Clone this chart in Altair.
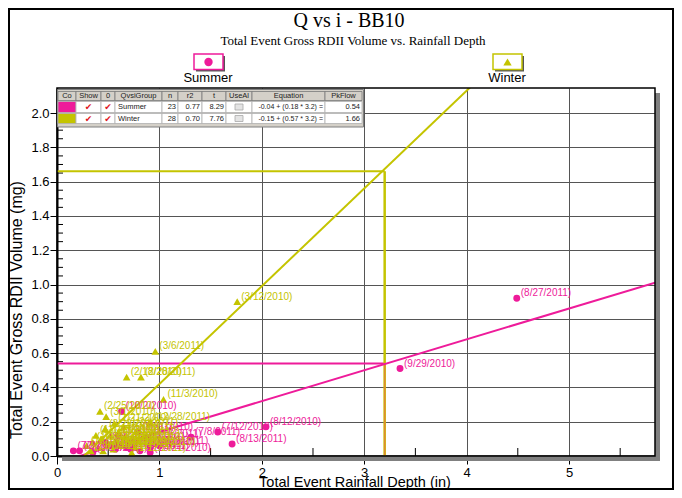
import altair as alt
import pandas as pd

# ---------------- data ----------------
summer_dates = ["8/27/2011", "9/29/2010", "8/12/2010", "7/12/2010", "8/13/2011",
                "7/8/2011", "10/2/2010", "8/21/2010", "7/20/2011", "7/2/2010",
                "7/29/2010", "8/16/2011", "6/4/2011", "9/12/2010", "6/16/2010",
                "9/1/2011", "7/14/2011", "8/5/2011", "10/27/2010", "6/22/2011",
                "9/6/2011", "8/8/2010", "7/25/2011"]
summer_x = [4.49, 3.35, 2.04, 1.57, 1.71, 1.31, 0.63, 0.79, 0.60, 0.16,
            0.22, 0.88, 0.81, 0.57, 0.52, 0.68, 0.76, 0.91, 0.91, 0.35,
            1.00, 0.47, 0.72]
summer_y = [0.92, 0.51, 0.17, 0.14, 0.07, 0.11, 0.26, 0.14, 0.12, 0.03,
            0.03, 0.10, 0.03, 0.04, 0.06, 0.05, 0.08, 0.05, 0.02, 0.02,
            0.06, 0.08, 0.04]

winter_dates = ["3/12/2010", "3/6/2011", "2/18/2010", "2/28/2011", "11/3/2010",
                "2/25/2010", "3/1/2010", "1/26/2011", "12/28/2011", "1/12/2011",
                "12/1/2010", "1/17/2010", "11/17/2010", "12/12/2010", "3/23/2010",
                "1/4/2011", "2/6/2011", "4/5/2010", "11/22/2011", "12/5/2011",
                "3/15/2011", "1/10/2012", "2/12/2010", "12/19/2010", "11/8/2011",
                "4/16/2011", "3/29/2010", "1/21/2010"]
winter_x = [1.76, 0.96, 0.68, 0.82, 1.04, 0.42, 0.48, 0.65, 0.91, 0.73,
            0.29, 0.35, 0.38, 0.40, 0.43, 0.45, 0.50, 0.52, 0.55, 0.58,
            0.62, 0.66, 0.70, 0.76, 0.33, 0.60, 0.47, 0.56]
winter_y = [0.90, 0.61, 0.46, 0.46, 0.33, 0.26, 0.23, 0.17, 0.20, 0.02,
            0.06, 0.08, 0.12, 0.05, 0.10, 0.03, 0.07, 0.12, 0.04, 0.09,
            0.06, 0.11, 0.08, 0.05, 0.03, 0.14, 0.16, 0.19]

groups = ["Summer", "Winter"]
group_n = [23, 28]
group_r2 = [0.77, 0.70]
group_t = [8.29, 7.76]
intercepts = [-0.04, -0.15]
slopes = [0.18, 0.57]
design_rain = 3.2
pk_flow = [0.54, 1.66]

x_ticks = [0, 1, 2, 3, 4, 5]
y_ticks = [0.0, 0.2, 0.4, 0.6, 0.8, 1.0, 1.2, 1.4, 1.6, 1.8, 2.0]
x_minor = [0.5, 1.5, 2.5, 3.5, 4.5, 5.5]
y_minor = [0.05, 0.10, 0.15, 0.25, 0.30, 0.35, 0.45, 0.50, 0.55, 0.65, 0.70, 0.75,
           0.85, 0.90, 0.95, 1.05, 1.10, 1.15, 1.25, 1.30, 1.35, 1.45, 1.50, 1.55,
           1.65, 1.70, 1.75, 1.85, 1.90, 1.95, 2.05, 2.10]

# ---------------- styling ----------------
PINK = "#ee1b9a"
YEL = "#c4c400"
XMAX, YMAX = 5.84, 2.146
W, H = 598, 368
SANS = "Liberation Sans"
SERIF = "Liberation Serif"

xs = alt.Scale(domain=[0, XMAX], nice=False, zero=False)
ys = alt.Scale(domain=[0, YMAX], nice=False, zero=False)
xaxis = alt.Axis(values=x_ticks, format="d", title=None, grid=True, gridColor="#555",
                 gridWidth=1, domainColor="black", domainWidth=2, tickColor="black",
                 tickSize=8, labelFont=SANS, labelFontSize=13, labelColor="black",
                 labelPadding=2, labelFlush=False)
yaxis = alt.Axis(values=y_ticks, format=".1f", title=None, grid=True, gridColor="#555",
                 gridWidth=1, domainColor="black", domainWidth=2, tickColor="black",
                 tickSize=7, labelFont=SANS, labelFontSize=13, labelColor="black",
                 labelPadding=1, labelFlush=False)


def X():
    return alt.X("x:Q", scale=xs, axis=xaxis)


def Y():
    return alt.Y("y:Q", scale=ys, axis=yaxis)


pts = pd.concat([
    pd.DataFrame({"group": "Summer", "x": summer_x, "y": summer_y,
                  "label": [f"({d})" for d in summer_dates]}),
    pd.DataFrame({"group": "Winter", "x": winter_x, "y": winter_y,
                  "label": [f"({d})" for d in winter_dates]}),
])
cscale = alt.Scale(domain=groups, range=[PINK, YEL])
sscale = alt.Scale(domain=groups, range=["circle", "triangle-up"])
zscale = alt.Scale(domain=groups, range=[48, 60])

reg_rows = []
for g, b, m in zip(groups, intercepts, slopes):
    reg_rows += [{"group": g, "x": 0.0, "y": b}, {"group": g, "x": XMAX, "y": b + m * XMAX}]
reg = pd.DataFrame(reg_rows)

hz = pd.DataFrame({"group": groups, "x": [0.0, 0.0], "x2": [design_rain] * 2, "y": pk_flow})
vt = pd.DataFrame({"group": groups, "x": [design_rain] * 2, "y": [0.0, 0.0], "y2": pk_flow})

minor_x = alt.Chart(pd.DataFrame({"x": x_minor})).mark_rule(color="black", strokeWidth=1).encode(
    x=X(), y=alt.value(H - 8), y2=alt.value(H))
minor_y = alt.Chart(pd.DataFrame({"y": y_minor})).mark_rule(color="black", strokeWidth=1).encode(
    y=Y(), x=alt.value(0), x2=alt.value(6))

h_lines = alt.Chart(hz).mark_rule(strokeWidth=2).encode(
    x=X(), x2="x2:Q", y=Y(), color=alt.Color("group:N", scale=cscale, legend=None))
v_win = alt.Chart(vt[vt.group == "Winter"]).mark_rule(strokeWidth=2.5, color=YEL).encode(
    x=X(), y=Y(), y2="y2:Q")
v_sum = alt.Chart(vt[vt.group == "Summer"]).mark_rule(strokeWidth=1.5, color="#e08a30").encode(
    x=X(), y=Y(), y2="y2:Q")
reg_lines = alt.Chart(reg).mark_line(strokeWidth=2, clip=True).encode(
    x=X(), y=Y(), color=alt.Color("group:N", scale=cscale, legend=None), detail="group:N")
points = alt.Chart(pts).mark_point(filled=True, opacity=1).encode(
    x=X(), y=Y(), color=alt.Color("group:N", scale=cscale, legend=None),
    shape=alt.Shape("group:N", scale=sscale, legend=None),
    size=alt.Size("group:N", scale=zscale, legend=None))
labels = alt.Chart(pts).mark_text(align="left", baseline="middle", dx=4, dy=-5,
                                  font=SANS, fontSize=10).encode(
    x=X(), y=Y(), text="label:N", color=alt.Color("group:N", scale=cscale, legend=None))

data_layer = alt.layer(minor_x, minor_y, h_lines, v_win, v_sum, reg_lines, points, labels)

# ---------------- pixel-space decorations (frame, titles, legend, table) ----------------
rects = []


def add_rect(x0, y0, x1, y1, fill, stroke="transparent", sw=0.0):
    rects.append({"x": x0, "x2": x1, "y": y0, "y2": y1, "fill": fill, "stroke": stroke, "sw": sw})


texts = {}


def add_text(key, x, y, t, fs, color="black"):
    texts.setdefault(key, []).append({"x": x, "y": y, "t": t, "fs": fs, "c": color})


# frame + plot shadow + plot border
add_rect(-48, -79, 616, 401, "transparent", "black", 2)
add_rect(W, 5, W + 5, H + 5, "#808080")
add_rect(5, H, W + 5, H + 5, "#808080")
add_rect(0, 0, W, H, "transparent", "black", 1.5)

# legend boxes
for cx, col in [(151.5, PINK), (450.5, YEL)]:
    add_rect(cx - 12.5, -32, cx + 16.5, -16.5, "#555555")
    add_rect(cx - 14.5, -34, cx + 14.5, -18.5, "white", col, 1.5)

# table
col_edges = [1, 19, 44, 58, 105, 121, 145, 169, 195, 268, 305]
hdr = (3.5, 12.5)
rows_y = [(13.5, 24.5), (25.5, 35.5)]
add_rect(0.5, 1.5, 306.5, 39, "#d4d0c8", "#808080", 1)
headers = ["Co", "Show", "0", "QvsiGroup", "n", "r2", "t", "UseAl", "Equation", "PkFlow"]
for i, h in enumerate(headers):
    add_rect(col_edges[i], hdr[0], col_edges[i + 1], hdr[1], "#d4d0c8", "#7a7a7a", 0.8)
    add_text("center", (col_edges[i] + col_edges[i + 1]) / 2, (hdr[0] + hdr[1]) / 2, h, 7.5, "#222")
swatch = [PINK, YEL]
for r, (y0, y1) in enumerate(rows_y):
    ym = (y0 + y1) / 2
    for i in range(len(headers)):
        fill = swatch[r] if i == 0 else "white"
        add_rect(col_edges[i], y0, col_edges[i + 1], y1, fill, "#b0b0b0", 0.8)
    cx = (col_edges[7] + col_edges[8]) / 2
    add_rect(cx - 4, ym - 3, cx + 4, ym + 3, "#e4e4e4", "#a8a8a8", 0.8)
    for i in (1, 2):
        add_text("check", (col_edges[i] + col_edges[i + 1]) / 2, ym, "\u2714", 9, "#e0141e")
    add_text("left", col_edges[3] + 3, ym, groups[r], 7.5, "#222")
    vals = {4: f"{group_n[r]}", 5: f"{group_r2[r]:.2f}", 6: f"{group_t[r]:.2f}",
            8: f"{intercepts[r]:.2f} + ({slopes[r]:.2f} * {design_rain}) =",
            9: f"{pk_flow[r]:.2f}"}
    for i, v in vals.items():
        add_text("right", col_edges[i + 1] - 2, ym, v, 7.5 if i != 8 else 7, "#222")

# titles and legend labels
add_text("serif", 292, -67, "Q vs i - BB10", 20)
add_text("serif", 296, -47, "Total Event Gross RDII Volume vs. Rainfall Depth", 13)
add_text("center", 151, -10, "Summer", 13)
add_text("center", 450, -10, "Winter", 13)
add_text("center", 298, 395, "Total Event Rainfall Depth (in)", 14.5)
add_text("vertical", -40, 222, "Total Event Gross RDII Volume (mg)", 16)


def pxX(f="x"):
    return alt.X(f"{f}:Q", scale=None, axis=None)


def pxY(f="y"):
    return alt.Y(f"{f}:Q", scale=None, axis=None)


rect_layer = alt.Chart(pd.DataFrame(rects)).mark_rect().encode(
    x=pxX(), x2="x2:Q", y=pxY(), y2="y2:Q",
    fill=alt.Fill("fill:N", scale=None, legend=None),
    stroke=alt.Stroke("stroke:N", scale=None, legend=None),
    strokeWidth=alt.StrokeWidth("sw:Q", scale=None, legend=None))

text_specs = {
    "center": dict(align="center", font=SANS),
    "left": dict(align="left", font=SANS),
    "right": dict(align="right", font=SANS),
    "check": dict(align="center", font="DejaVu Sans"),
    "serif": dict(align="center", font=SERIF),
    "vertical": dict(align="center", font=SANS, angle=270),
}
text_layers = []
for key, rowsd in texts.items():
    text_layers.append(
        alt.Chart(pd.DataFrame(rowsd)).mark_text(baseline="middle", **text_specs[key]).encode(
            x=pxX(), y=pxY(), text="t:N",
            size=alt.Size("fs:Q", scale=None, legend=None),
            color=alt.Color("c:N", scale=None, legend=None)))

legend_circle = alt.Chart(pd.DataFrame({"g": ["Summer"]})).mark_point(
    filled=True, opacity=1, shape="circle", size=70, color=PINK).encode(
    x=alt.value(151.5), y=alt.value(-26))
legend_tri = alt.Chart(pd.DataFrame({"g": ["Winter"]})).mark_point(
    filled=True, opacity=1, shape="triangle-up", size=70, color=YEL).encode(
    x=alt.value(450.5), y=alt.value(-26))

pixel_layer = alt.layer(rect_layer, legend_circle, legend_tri, *text_layers)

chart = alt.layer(data_layer, pixel_layer).resolve_scale(
    x="independent", y="independent", color="independent", size="independent"
).properties(
    width=W, height=H,
    padding={"left": 49, "top": 80, "right": 19, "bottom": 34},
    autosize=alt.AutoSizeParams(type="none"),
    background="white",
).configure_view(stroke=None)

chart.save("out.html", embed_options={"renderer": "svg", "actions": False})
